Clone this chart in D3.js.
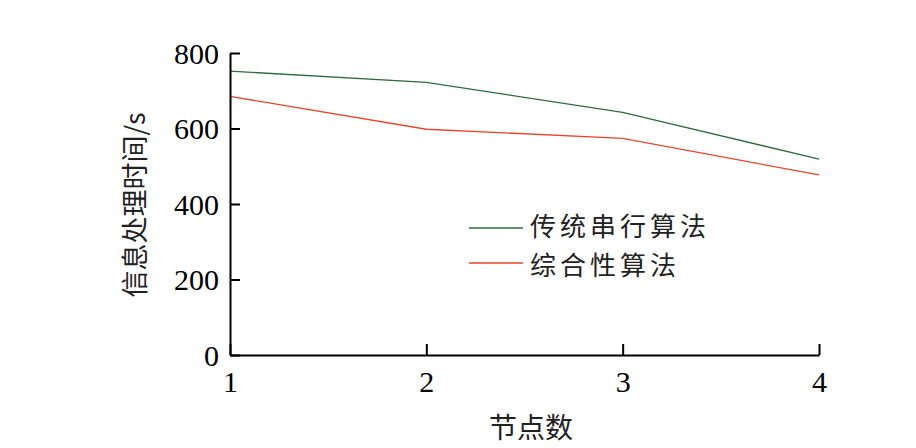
<!DOCTYPE html>
<html><head><meta charset="utf-8">
<script src="https://cdn.jsdelivr.net/npm/d3@7"></script>
<style>body{margin:0;background:#fff}svg{display:block}</style>
</head><body>
<svg id="c" width="916" height="448"></svg>
<script>
const nodes = [1, 2, 3, 4];
const serialValues = [752, 722, 643, 519];
const combinedValues = [685, 598, 574, 477];
const seriesNames = ["传统串行算法", "综合性算法"];
const seriesColors = ["#2f6b3f", "#e8452c"];
const yTicks = [0, 200, 400, 600, 800];
const xTitle = "节点数";
const yTitle = "信息处理时间/s";

const svg = d3.select("#c");
const x = d3.scaleLinear().domain([1, 4]).range([230, 819]);
const y = d3.scaleLinear().domain([0, 800]).range([355, 53]);
const serif = "'Liberation Serif','Times New Roman',serif";
const cjk = "'Noto Sans CJK SC','Noto Sans CJK JP',sans-serif";

const series = [serialValues, combinedValues];
const line = d3.line().x((d, i) => x(nodes[i])).y(d => y(d));
series.forEach((vals, k) => {
  svg.append("path").datum(vals).attr("d", line)
    .attr("fill", "none").attr("stroke", seriesColors[k]).attr("stroke-width", 1.3);
});

// y axis
const ya = svg.append("g").attr("transform", "translate(230,0)")
  .call(d3.axisLeft(y).tickValues(yTicks).tickSizeInner(-10).tickSizeOuter(0).tickPadding(11));
// x axis
const xa = svg.append("g").attr("transform", "translate(0,355)")
  .call(d3.axisBottom(x).tickValues(nodes).tickFormat(d3.format("d")).tickSizeInner(-11).tickSizeOuter(0).tickPadding(16));
[ya, xa].forEach(g => {
  g.select(".domain").attr("stroke", "#000").attr("stroke-width", 2);
  g.selectAll(".tick line").attr("stroke", "#000").attr("stroke-width", 2);
  g.selectAll(".tick text").attr("fill", "#000").attr("font-family", serif).attr("font-size", 30);
});
ya.selectAll(".tick text").attr("dy", "0.34em");
xa.selectAll(".tick text").attr("dy", "0.7em");

// titles
svg.append("text").attr("x", 531).attr("y", 438).attr("text-anchor", "middle")
  .attr("font-family", cjk).attr("font-size", 28).attr("fill", "#222").text(xTitle);
svg.append("text").attr("transform", "translate(145,205) rotate(-90)").attr("text-anchor", "middle")
  .attr("font-family", cjk).attr("font-size", 27).attr("fill", "#222").text(yTitle);

// legend
const ly = [228, 263];
const lyText = [236, 275];
seriesNames.forEach((n, k) => {
  svg.append("line").attr("x1", 469).attr("x2", 523).attr("y1", ly[k]).attr("y2", ly[k])
    .attr("stroke", seriesColors[k]).attr("stroke-width", 1.3);
  svg.append("text").attr("x", 530).attr("y", lyText[k])
    .attr("font-family", cjk).attr("font-size", 26).attr("letter-spacing", 4).attr("fill", "#222").text(n);
});
</script>
</body></html>
